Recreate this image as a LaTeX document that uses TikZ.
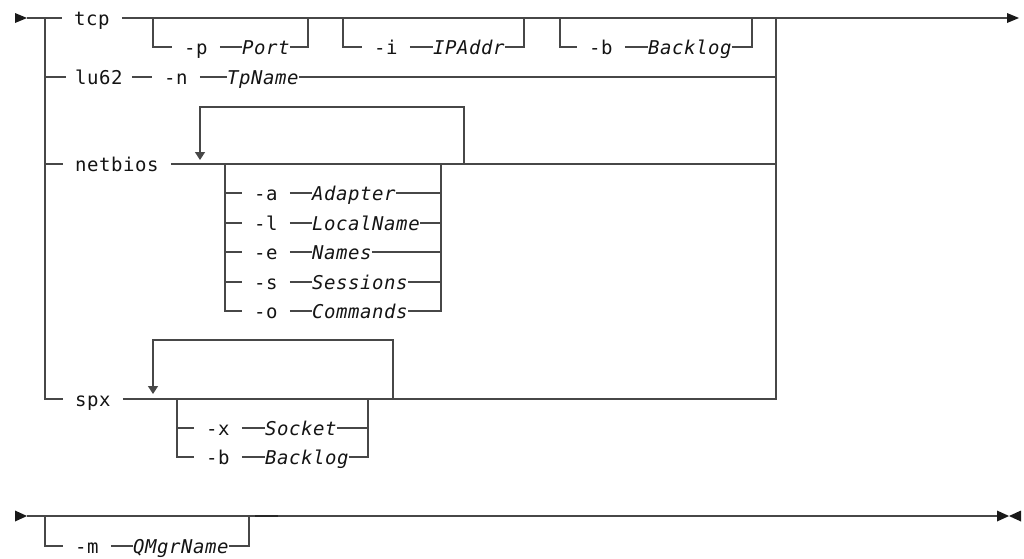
\documentclass[tikz,border=0pt]{standalone}
\usepackage{fontspec}
\setmonofont{DejaVu Sans Mono}[LetterSpace=3]
\usetikzlibrary{arrows.meta}
\tikzset{
  rail/.style={draw=black!72, line width=1.4pt},
  tipfill/.style={fill=black!90},
  kw/.style={font=\fontsize{19}{21}\selectfont\ttfamily, text=black!92, inner xsep=12pt, inner ysep=0pt,
             text height=17.5pt, text depth=2pt, anchor=west},
  var/.style={kw, font=\fontsize{19}{21}\selectfont\ttfamily\itshape, inner xsep=0pt},
  loopback/.style={rail, -{Triangle[width=10pt,length=8pt]}},
}
\begin{document}
\begin{tikzpicture}[x=1pt,y=-1pt]
\useasboundingbox (0,0) rectangle (1024,558);
% ---------- rails ----------
\coordinate (st) at (27,18);
\coordinate (L0) at (45,18);
\coordinate (L1) at (45,77);
\coordinate (L2) at (45,164);
\coordinate (L3) at (45,399);
\coordinate (R0) at (776,18);
\coordinate (R1) at (776,77);
\coordinate (R2) at (776,164);
\coordinate (R3) at (776,399);
\coordinate (en) at (1007,18);

\node[kw] (tcp) at (62,18) {tcp};
\node[kw, inner xsep=9pt] (lu) at (66,77) {lu62};
\node[kw] (nb) at (63,164) {netbios};
\node[kw] (spx) at (63,399) {spx};

\fill[tipfill] (15,13) -- (st) -- (15,23) -- cycle;
\draw[rail] (st) -- (tcp.west);
\draw[rail] (tcp.east) -- (en);
\fill[tipfill] (en) ++(0,-5) -- (1019,18) -- (1007,23) -- cycle;

\draw[rail] (L0) -- (L3) -- (spx.west);
\draw[rail] (L1) -- (lu.west);
\draw[rail] (L2) -- (nb.west);
\draw[rail] (spx.east) -- (R3) -- (R0);
\draw[rail] (nb.east) -- (R2);

% ---------- tcp options ----------
\coordinate (p0) at (153,18); \coordinate (p1) at (308,18);
\node[kw] (p) at (172,47) {-p};
\node[var] (port) at (242,47) {Port};
\draw[rail] (p0) |- (p.west);
\draw[rail] (p.east) -- (port.west);
\draw[rail] (port.east) -| (p1);

\coordinate (i0) at (343,18); \coordinate (i1) at (524,18);
\node[kw] (i) at (362,47) {-i};
\node[var] (ip) at (433,47) {IPAddr};
\draw[rail] (i0) |- (i.west);
\draw[rail] (i.east) -- (ip.west);
\draw[rail] (ip.east) -| (i1);

\coordinate (b0) at (560,18); \coordinate (b1) at (752,18);
\node[kw] (b) at (577,47) {-b};
\node[var] (bl) at (648,47) {Backlog};
\draw[rail] (b0) |- (b.west);
\draw[rail] (b.east) -- (bl.west);
\draw[rail] (bl.east) -| (b1);

% ---------- lu62 ----------
\node[kw] (n) at (152,77) {-n};
\node[var] (tp) at (227,77) {TpName};
\draw[rail] (lu.east) -- (n.west);
\draw[rail] (n.east) -- (tp.west);
\draw[rail] (tp.east) -- (R1);

% ---------- netbios ----------
\coordinate (nl0) at (464,164);
\coordinate (nlB) at (200,107);
\coordinate (nl1) at (200,160);
\draw[loopback] (nl0) |- (nlB) -- (nl1);

\coordinate (c0) at (225,164); \coordinate (c1) at (441,164);
\node[kw] (ka) at (242,193) {-a};
\node[kw] (kl) at (242,223) {-l};
\node[kw] (ke) at (242,252) {-e};
\node[kw] (ks) at (242,282) {-s};
\node[kw] (ko) at (242,311) {-o};
\node[var] (va) at (312,193) {Adapter};
\node[var] (vl) at (312,223) {LocalName};
\node[var] (ve) at (312,252) {Names};
\node[var] (vs) at (312,282) {Sessions};
\node[var] (vo) at (312,311) {Commands};
\draw[rail] (c0) |- (ko.west);
\draw[rail] (c1) |- (vo.east);
\foreach \k/\v in {ka/va,kl/vl,ke/ve,ks/vs,ko/vo}{
  \draw[rail] (\k.west -| c0) -- (\k.west);
  \draw[rail] (\k.east) -- (\v.west);
  \draw[rail] (\v.east) -- (\v.east -| c1);
}

% ---------- spx ----------
\coordinate (sl0) at (393,399);
\coordinate (slB) at (153,340);
\coordinate (sl1) at (153,394);
\draw[loopback] (sl0) |- (slB) -- (sl1);

\coordinate (c2) at (177,399); \coordinate (c3) at (368,399);
\node[kw] (kx) at (194,428) {-x};
\node[kw] (kb) at (194,457) {-b};
\node[var] (vx) at (265,428) {Socket};
\node[var] (vb) at (265,457) {Backlog};
\draw[rail] (c2) |- (kb.west);
\draw[rail] (c3) |- (vb.east);
\foreach \k/\v in {kx/vx,kb/vb}{
  \draw[rail] (\k.west -| c2) -- (\k.west);
  \draw[rail] (\k.east) -- (\v.west);
  \draw[rail] (\v.east) -- (\v.east -| c3);
}

% ---------- second line ----------
\coordinate (st2) at (27,516);
\coordinate (en2) at (997,516);
\coordinate (m0) at (45,516); \coordinate (m1) at (249,516);
\fill[tipfill] (15,510.5) -- (st2) -- (15,521.5) -- cycle;
\draw[rail] (st2) -- (en2);
\fill[tipfill] (en2) ++(0,-5.5) -- (1009,516) -- (997,521.5) -- cycle;
\fill[tipfill] (1021,510.5) -- (1009,516) -- (1021,521.5) -- cycle;
\node[kw] (m) at (63,546) {-m};
\node[var] (qm) at (133,546) {QMgrName};
\draw[rail] (m0) |- (m.west);
\draw[rail] (m.east) -- (qm.west);
\draw[rail] (qm.east) -| (m1);
\draw[black!85, line width=2.6pt] (255,516) -- (278,516);
\end{tikzpicture}
\end{document}
